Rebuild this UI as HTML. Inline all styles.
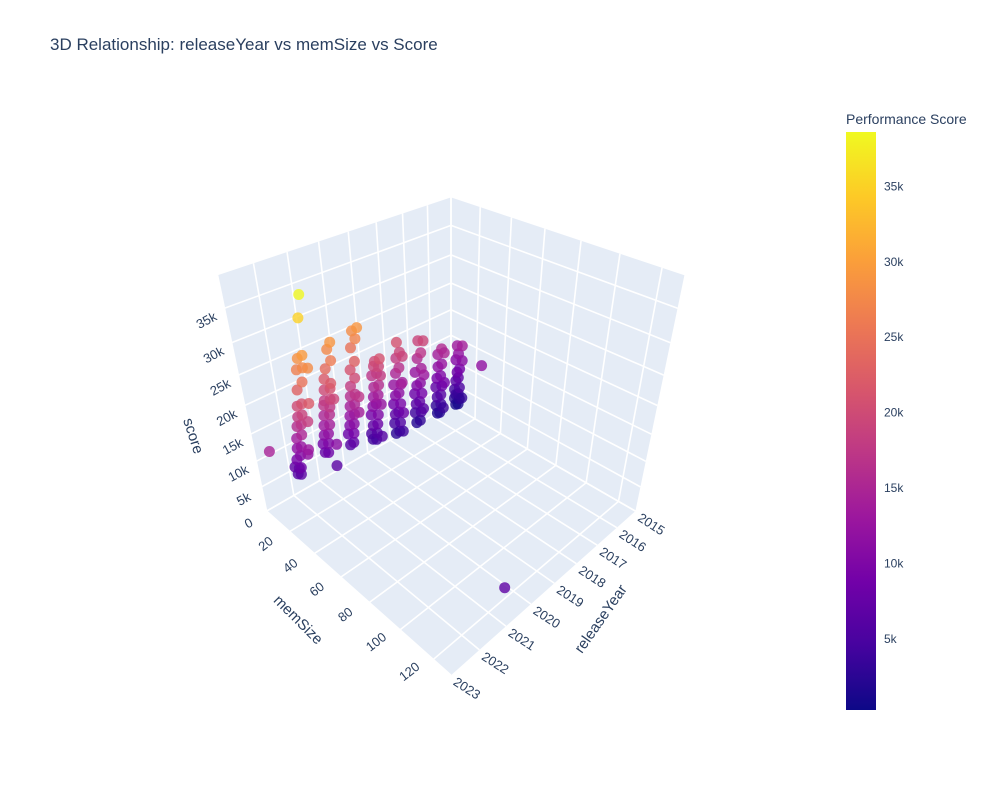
<!DOCTYPE html>
<html>
<head>
<meta charset="utf-8">
<style>
html,body{margin:0;padding:0;background:#fff;}
#wrap{position:relative;width:1000px;height:800px;overflow:hidden;font-family:"Liberation Sans",Arial,sans-serif;}
svg text{font-family:"Liberation Sans",Arial,sans-serif;fill:#2a3f5f;}
</style>
</head>
<body>
<div id="wrap">
<svg id="chart" width="1000" height="800" viewBox="0 0 1000 800">
  <text x="50" y="50" font-size="17">3D Relationship: releaseYear vs memSize vs Score</text>
  <g id="scene"></g>
  <defs>
    <linearGradient id="plasma" x1="0" y1="1" x2="0" y2="0">
      <stop offset="0" stop-color="#0d0887"/><stop offset="0.111" stop-color="#46039f"/>
      <stop offset="0.222" stop-color="#7201a8"/><stop offset="0.333" stop-color="#9c179e"/>
      <stop offset="0.444" stop-color="#bd3786"/><stop offset="0.556" stop-color="#d8576b"/>
      <stop offset="0.667" stop-color="#ed7953"/><stop offset="0.778" stop-color="#fb9f3a"/>
      <stop offset="0.889" stop-color="#fdca26"/><stop offset="1" stop-color="#f0f921"/>
    </linearGradient>
  </defs>
  <text x="846" y="124" font-size="14">Performance Score</text>
  <rect x="846" y="132" width="30" height="578" fill="url(#plasma)"/>
  <g id="cbticks"></g>
</svg>
</div>
<script>
// ---- data ----
const years = [
 2022,2022,2022,2022,2022,2022,2022,2022,2022,2022,2022,2022,2022,2022,2022,2022,2022,2022,2022,2022,2022,2022,2022,2022,2022,2022,2022,2022,2022,2022,
 2021,2021,2021,2021,2021,2021,2021,2021,2021,2021,2021,2021,2021,2021,2021,2021,2021,2021,2021,2021,2021,2021,2021,2021,2021,
 2020,2020,2020,2020,2020,2020,2020,2020,2020,2020,2020,2020,2020,2020,2020,2020,2020,2020,2020,2020,2020,2020,
 2019,2019,2019,2019,2019,2019,2019,2019,2019,2019,2019,2019,2019,2019,2019,2019,2019,2019,2019,2019,2019,2019,2019,
 2018,2018,2018,2018,2018,2018,2018,2018,2018,2018,2018,2018,2018,2018,2018,2018,2018,2018,2018,2018,2018,
 2017,2017,2017,2017,2017,2017,2017,2017,2017,2017,2017,2017,2017,2017,2017,2017,2017,2017,
 2016,2016,2016,2016,2016,2016,2016,2016,2016,2016,2016,2016,2016,2016,2016,2016,2016,
 2015,2015,2015,2015,2015,2015,2015,2015,2015,2015,2015,2015,2015,2015,2015,2015,2015,2015,
 2015,2023,2021];
const mems = [
 8,11,6,10,12,9,13,11,15,12,17,14,18,16,20,17,21,19,24,21,26,23,27,28,31,20,21,24,27,30,
 9,12,8,13,10,14,11,16,12,17,13,18,14,19,15,20,16,21,18,23,21,24,18,20,22,
 8,11,7,12,9,13,10,14,11,15,12,16,13,17,14,18,16,20,18,22,18,19,
 6,9,5,10,7,11,6,12,8,11,9,13,10,14,9,13,11,15,12,16,14,15,16,
 6,9,5,10,6,9,5,11,7,10,6,12,8,11,9,12,10,12,13,13,14,
 5,8,4,9,5,8,4,10,6,9,5,10,7,10,8,11,12,12,
 5,7,4,8,5,8,4,9,5,8,6,9,6,9,10,11,11,
 4,6,3,7,4,6,3,7,4,6,5,7,4,6,5,9,9,9,
 24,15,128];
const scores = [
 6000,6500,7000,7500,8000,9000,10500,11500,12500,13500,15000,16000,17000,18000,19000,20000,21000,23000,25000,26500,27500,28500,29500,35000,38500,12000,13000,18500,22000,28000,
 7500,8000,9000,10000,11000,12000,13000,14000,15000,16000,17000,17500,18000,19000,20000,21000,22000,22000,24000,26000,27500,29000,6500,11000,19500,
 6000,7000,8000,9000,10000,11000,12000,13000,14000,15000,16000,17000,18000,20000,21000,23000,25000,27000,28000,29000,14000,17000,
 4000,4500,5000,6000,7000,8000,9000,10000,11000,12000,13000,14000,15000,16000,17000,18000,19000,19500,20000,21000,6000,12500,18000,
 2500,3500,4500,5500,6500,7500,8500,9500,10500,11500,12500,13500,15000,16500,18000,19500,21000,4000,8000,14000,19000,
 2000,3000,4000,5000,6000,7000,8000,9000,10000,11000,12500,14000,15500,17000,19000,6000,13000,19500,
 1500,2000,3000,4000,5000,6000,7000,8000,9000,10000,11500,12500,14000,15500,3500,9000,15000,
 800,1200,2000,2500,3000,3500,4000,5000,6000,7000,8000,9000,10500,12000,13500,3000,11000,14000,
 12000,14500,7000];
const yearTicks = [2015,2016,2017,2018,2019,2020,2021,2022,2023];
const memTicks = [0,20,40,60,80,100,120];
const scoreTicks = [0,5000,10000,15000,20000,25000,30000,35000];
const scoreTickLabels = ["0","5k","10k","15k","20k","25k","30k","35k"];
const cbTicks = [5000,10000,15000,20000,25000,30000,35000];
const cbTickLabels = ["5k","10k","15k","20k","25k","30k","35k"];

// ---- scales / projection ----
const YR=[2015,2023], MR=[0,130], SR=[0,39500];
const CMIN=300, CMAX=38600;
const E=[1.25,1.25,1.25], SC=701, CX=451, CY=407;
function norm(yr,m,s){
  return [(yr-YR[0])/(YR[1]-YR[0])*0.9-0.45,(m-MR[0])/(MR[1]-MR[0])*0.9-0.45,(s-SR[0])/(SR[1]-SR[0])*0.88-0.44];
}
function proj(yr,m,s){
  const n=norm(yr,m,s);
  const dx=n[0]-E[0],dy=n[1]-E[1],dz=n[2]-E[2];
  const depth=-(dx+dy+dz)/Math.sqrt(3);
  const R=(-dx+dy)/Math.SQRT2, U=(-dx-dy+2*dz)/Math.sqrt(6);
  return {x:CX+SC*R/depth,y:CY-SC*U/depth,d:depth};
}
const stops=["#0d0887","#46039f","#7201a8","#9c179e","#bd3786","#d8576b","#ed7953","#fb9f3a","#fdca26","#f0f921"];
function hex(h){return [parseInt(h.substr(1,2),16),parseInt(h.substr(3,2),16),parseInt(h.substr(5,2),16)];}
function color(v){
  let t=Math.max(0,Math.min(1,(v-CMIN)/(CMAX-CMIN)))*(stops.length-1);
  const i=Math.min(stops.length-2,Math.floor(t)),f=t-i;
  const a=hex(stops[i]),b=hex(stops[i+1]);
  return "rgb("+a.map((c,k)=>Math.round(c+(b[k]-c)*f)).join(",")+")";
}
const NS="http://www.w3.org/2000/svg";
const scene=document.getElementById('scene');
function mk(tag,attrs,parent){const e=document.createElementNS(NS,tag);for(const k in attrs)e.setAttribute(k,attrs[k]);(parent||scene).appendChild(e);return e;}
function poly(pts){return pts.map(p=>p.x.toFixed(1)+","+p.y.toFixed(1)).join(" ");}

// walls
const y0=YR[0],y1=YR[1],m0=MR[0],m1=MR[1],s0=SR[0],s1=SR[1];
const floor=mk('polygon',{points:poly([proj(y0,m0,s0),proj(y1,m0,s0),proj(y1,m1,s0),proj(y0,m1,s0)]),fill:'#E5ECF6'});


const lw=mk('polygon',{points:poly([proj(y0,m0,s0),proj(y1,m0,s0),proj(y1,m0,s1),proj(y0,m0,s1)]),fill:'#E5ECF6'});


const rw=mk('polygon',{points:poly([proj(y0,m0,s0),proj(y0,m1,s0),proj(y0,m1,s1),proj(y0,m0,s1)]),fill:'#E5ECF6'});



const grid=mk('g',{stroke:'#fff','stroke-width':1.6,fill:'none'});


function line(a,b){const l=mk('line',{x1:a.x,y1:a.y,x2:b.x,y2:b.y},grid);}
yearTicks.forEach(t=>{line(proj(t,m0,s0),proj(t,m1,s0));line(proj(t,m0,s0),proj(t,m0,s1));});
memTicks.forEach(t=>{line(proj(y0,t,s0),proj(y1,t,s0));line(proj(y0,t,s0),proj(y0,t,s1));});
scoreTicks.forEach(t=>{line(proj(y0,m0,t),proj(y1,m0,t));line(proj(y0,m0,t),proj(y0,m1,t));});

// tick labels
const tl=mk('g',{'font-size':13,'text-anchor':'middle','dominant-baseline':'central'});


function label(p,dx,dy,rot,txt,name){
  const x=p.x+dx,y=p.y+dy;
  const t=mk('text',{x:x,y:y,transform:'rotate('+rot+' '+x+' '+y+')'},tl);
  t.textContent=txt;
  
  
}
scoreTicks.forEach((t,i)=>label(proj(y1,m0,t),-18,12,-28,scoreTickLabels[i],'score-tick-label'));
memTicks.forEach(t=>{if(t>0)label(proj(y1,t,s0),-24,12,-38,String(t),'memsize-tick-label');});
yearTicks.forEach(t=>label(proj(t,m1,s0),16,13,33,String(t),'year-tick-label'));

// axis titles
function title(x,y,rot,txt,name){
  const t=mk('text',{x:x,y:y,'font-size':15,'text-anchor':'middle','dominant-baseline':'central',transform:'rotate('+rot+' '+x+' '+y+')'});
  t.textContent=txt;
  
  
}
title(193,436,72,'score','z-axis-title');
title(298,620,45,'memSize','y-axis-title');
title(601,619,-55,'releaseYear','x-axis-title');

// points
const pts=years.map((yr,i)=>{const p=proj(yr,mems[i],scores[i]);p.v=scores[i];return p;});
pts.sort((a,b)=>b.d-a.d);
const pg=mk('g',{});


pts.forEach(p=>{
  const c=mk('circle',{cx:p.x.toFixed(1),cy:p.y.toFixed(1),r:5.5,fill:color(p.v),'fill-opacity':0.8},pg);
  
  
});

// colorbar ticks
const cbg=document.getElementById('cbticks');
cbTicks.forEach((v,i)=>{
  const y=710-(v-CMIN)/(CMAX-CMIN)*578;
  const t=mk('text',{x:884,y:y+4,'font-size':12},cbg);
  t.textContent=cbTickLabels[i];
  
  
});
</script>
</body>
</html>
